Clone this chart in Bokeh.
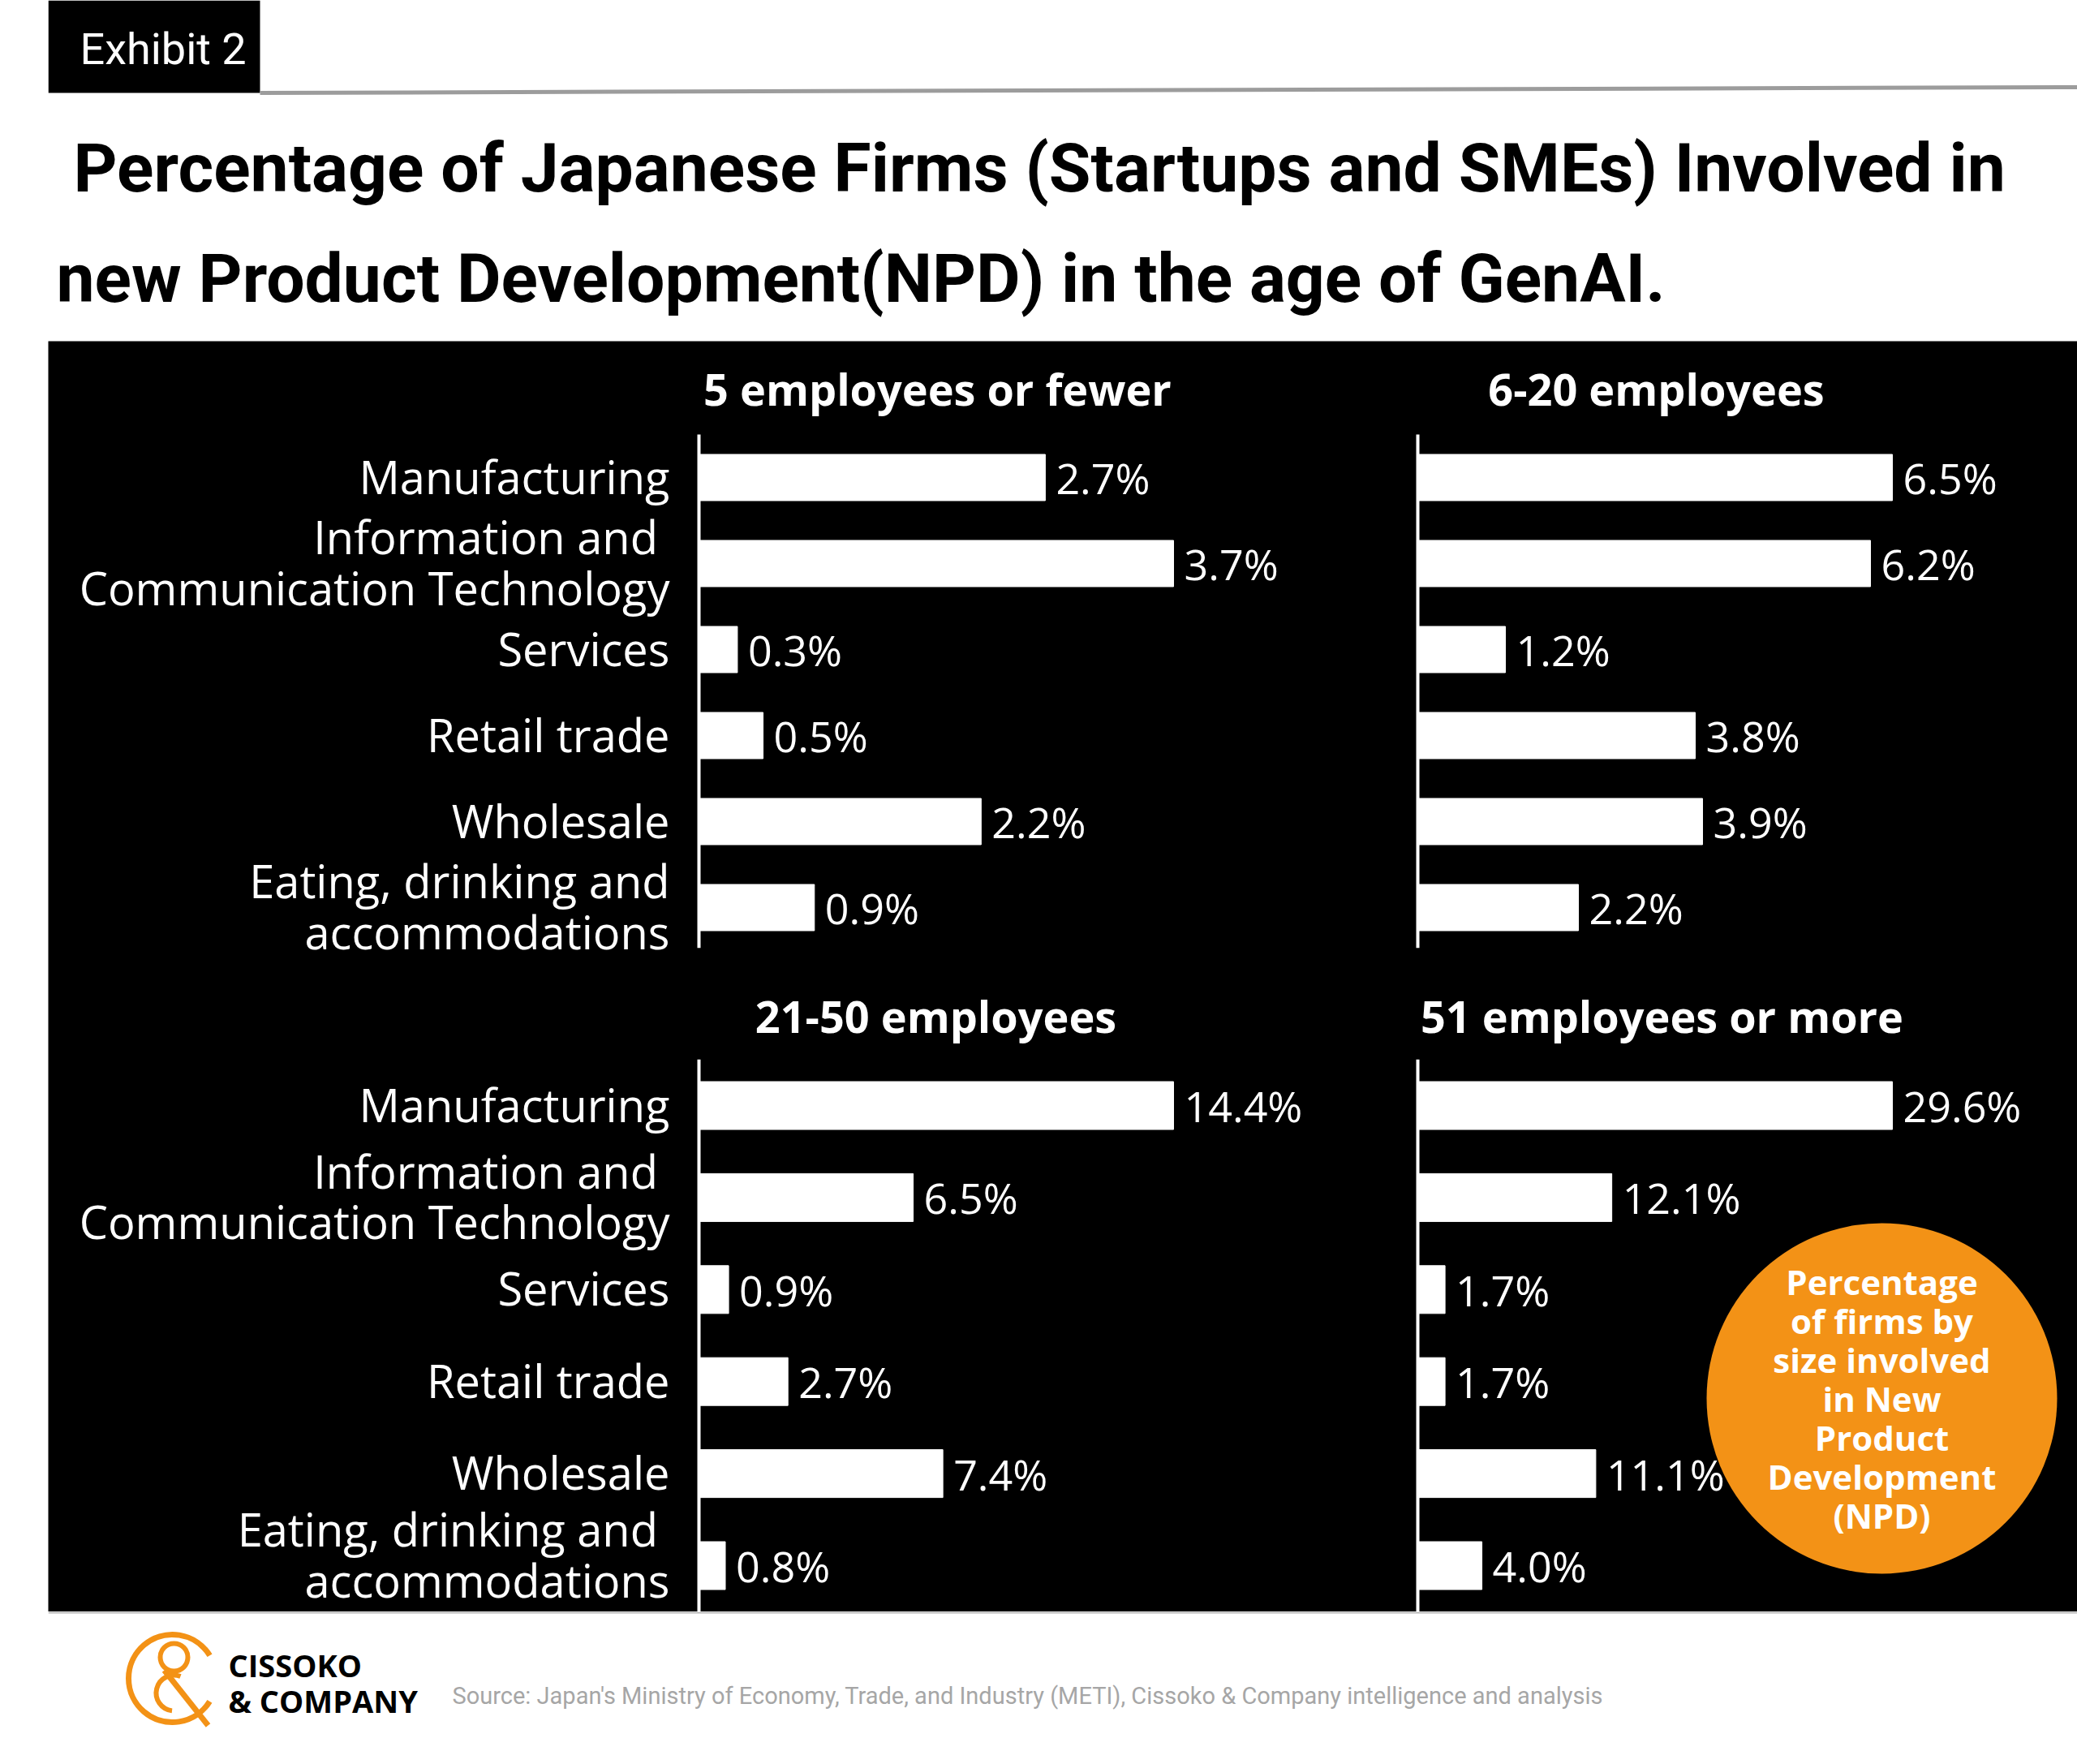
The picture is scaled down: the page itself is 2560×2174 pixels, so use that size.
from bokeh.plotting import figure
from bokeh.layouts import column
from bokeh.models import Range1d
from bokeh.core.properties import value
from bokeh.embed import file_html
from bokeh.resources import INLINE

# ---------------------------------------------------------------- data
industries = [
    "Manufacturing",
    "Information and Communication Technology",
    "Services",
    "Retail trade",
    "Wholesale",
    "Eating, drinking and accommodations",
]
labels_upper = [
    "Manufacturing",
    "Information and \nCommunication Technology",
    "Services",
    "Retail trade",
    "Wholesale",
    "Eating, drinking and\naccommodations",
]
labels_lower = [
    "Manufacturing",
    "Information and \nCommunication Technology",
    "Services",
    "Retail trade",
    "Wholesale",
    "Eating, drinking and \naccommodations",
]

size_groups = ["5 employees or fewer", "6-20 employees", "21-50 employees", "51 employees or more"]
npd_5_or_fewer = [2.7, 3.7, 0.3, 0.5, 2.2, 0.9]
npd_6_to_20 = [6.5, 6.2, 1.2, 3.8, 3.9, 2.2]
npd_21_to_50 = [14.4, 6.5, 0.9, 2.7, 7.4, 0.8]
npd_51_or_more = [29.6, 12.1, 1.7, 1.7, 11.1, 4.0]

title_lines = [
    "Percentage of Japanese Firms (Startups and SMEs) Involved in",
    "new Product Development(NPD) in the age of GenAI.",
]
badge_text = "Percentage\nof firms by\nsize involved\nin New\nProduct\nDevelopment\n(NPD)"
source_text = ("Source: Japan's Ministry of Economy, Trade, and Industry (METI), "
               "Cissoko & Company intelligence and analysis")

# ---------------------------------------------------------------- styling
LABEL_FONT = value("Open Sans")
BOLD_FONT = value("Open Sans")
HEAD_FONT = value("Roboto")
ORANGE = "#F39216"
BAR_SPAN = 585  # pixel length of the longest bar in each panel
PAGE_W = 2560
PANEL_LEFT = 59  # all three stacked canvases share this left border


def canvas(h, x_range, y_range, bg):
    p = figure(width=PAGE_W, height=h, x_range=x_range, y_range=y_range,
               x_axis_type=None, y_axis_type=None,
               output_backend="svg", toolbar_location=None,
               background_fill_color=bg, border_fill_color="white",
               min_border=0, min_border_left=PANEL_LEFT, outline_line_color=None)
    p.grid.visible = False
    return p


# ---------------------------------------------------------------- header
header = canvas(420, Range1d(PANEL_LEFT, PAGE_W), Range1d(420, 0), "white")
header.quad(left=[59], right=[320], top=[0], bottom=[114],
            fill_color="black", line_color=None)
header.text(x=[98], y=[60], text=["Exhibit 2"], text_align="left",
            text_baseline="middle", text_color="white",
            text_font=HEAD_FONT, text_font_size="54px")
header.line(x=[320, 2560], y=[114, 107], line_color="#9c9c9c", line_width=5)
header.text(x=[90, 69], y=[207, 343], text=title_lines, text_align="left",
            text_baseline="alphabetic", text_color="black",
            text_font=HEAD_FONT, text_font_style="bold",
            text_font_size="84px")

# ---------------------------------------------------------------- panels
# One black canvas holds the four small multiples; each panel has its own
# x range (value) and each row of panels its own y range (category index).
FRAME_W, FRAME_H = PAGE_W - PANEL_LEFT, 1566
AXIS_PX = {"left": 802, "right": 1688}          # where x = 0 sits in the frame
ROW_FIRST = {"top": 168, "bottom": 942}           # centre of first bar from frame top
ROW_STEP = {"top": 106, "bottom": 113.4}
ROW_BAR = {"top": 57, "bottom": 59}
# the last label of the lower row is nudged up so it stays inside the board
LAST_LABEL_SHIFT = {"top": -2, "bottom": -14}


def x_range_for(col, vmax):
    s = BAR_SPAN / vmax
    return Range1d(-AXIS_PX[col] / s, (FRAME_W - AXIS_PX[col]) / s)


def y_range_for(r):
    return Range1d((FRAME_H - ROW_FIRST[r]) / ROW_STEP[r], -ROW_FIRST[r] / ROW_STEP[r])


panel_specs = [
    # title, values, labels, column, row, title centre (frame px), axis end
    (size_groups[0], npd_5_or_fewer, labels_upper, "left", "top", 1096, 58, 5.47),
    (size_groups[1], npd_6_to_20, None, "right", "top", 1982, 58, 5.47),
    (size_groups[2], npd_21_to_50, labels_lower, "left", "bottom", 1094, 831, 6.0),
    (size_groups[3], npd_51_or_more, None, "right", "bottom", 1989, 831, 6.0),
]

board = canvas(FRAME_H, Range1d(0, 1), y_range_for("top"), "black")
board.extra_y_ranges = {"bottom": y_range_for("bottom")}
board.extra_x_ranges = {}

label_style = dict(x_offset=-36, text_align="right", text_baseline="middle",
                   text_color="white", text_font=LABEL_FONT,
                   text_font_size="56px", text_line_height=0.82)

for i, (title, values, labels, col, rw, tcx, tcy, axis_end) in enumerate(panel_specs):
    xname = f"x{i}"
    board.extra_x_ranges[xname] = x_range_for(col, max(values))
    yname = "default" if rw == "top" else "bottom"
    kw = dict(x_range_name=xname, y_range_name=yname)
    scale = BAR_SPAN / max(values)
    idx = list(range(len(values)))

    board.hbar(y=idx, left=0, right=values, height=ROW_BAR[rw] / ROW_STEP[rw],
               fill_color="white", line_color="white", line_width=1, **kw)
    board.text(x=values, y=idx, text=[f"{v:.1f}%" for v in values],
               x_offset=13, text_align="left", text_baseline="middle",
               text_color="white", text_font=LABEL_FONT, text_font_size="52px", **kw)
    if labels is not None:
        board.text(x=[0] * (len(labels) - 1), y=idx[:-1], text=labels[:-1],
                   y_offset=-2, **label_style, **kw)
        board.text(x=[0], y=idx[-1:], text=labels[-1:],
                   y_offset=LAST_LABEL_SHIFT[rw], **label_style, **kw)
    board.segment(x0=[0], y0=[-0.5], x1=[0], y1=[axis_end],
                  line_color="white", line_width=4, **kw)
    board.text(x=[(tcx - AXIS_PX[col]) / scale],
               y=[(tcy - ROW_FIRST[rw]) / ROW_STEP[rw]],
               text=[title], text_align="center", text_baseline="middle",
               text_color="white", text_font=BOLD_FONT, text_font_style="bold",
               text_font_size="54px", **kw)

    if i == 3:
        # orange badge in the last panel
        bx = (2260 - AXIS_PX[col]) / scale
        by = (1723 - 420 - ROW_FIRST[rw]) / ROW_STEP[rw]
        board.scatter(x=[bx], y=[by], marker="circle", size=432,
                      fill_color=ORANGE, line_color=None, **kw)
        board.text(x=[bx], y=[by], text=[badge_text], text_align="center",
                   text_baseline="middle", text_color="white", text_font=BOLD_FONT,
                   text_font_style="bold", text_font_size="42px",
                   text_line_height=0.84, **kw)

# ---------------------------------------------------------------- footer
footer = canvas(188, Range1d(PANEL_LEFT, PAGE_W), Range1d(188, 0), "white")
footer.segment(x0=[59], y0=[1], x1=[2560], y1=[1], line_color="#b5b5b5", line_width=2)
# logo mark: open "C" wrapped round an ampersand stroke
footer.arc(x=[212], y=[82], radius=54, start_angle=0.55, end_angle=6.28 - 0.55,
           direction="anticlock", line_color=ORANGE, line_width=7)
footer.scatter(x=[214], y=[56], marker="circle", size=34, fill_color=None,
               line_color=ORANGE, line_width=6)
footer.segment(x0=[202], y0=[72], x1=[256], y1=[140], line_color=ORANGE, line_width=7)
footer.arc(x=[214], y=[100], radius=22, start_angle=1.2, end_angle=4.6,
           direction="anticlock", line_color=ORANGE, line_width=6)
footer.text(x=[281, 281], y=[65, 109], text=["CISSOKO", "& COMPANY"],
            text_align="left", text_baseline="middle", text_color="black",
            text_font=BOLD_FONT, text_font_style="bold", text_font_size="38px")
footer.text(x=[557], y=[103], text=[source_text], text_align="left",
            text_baseline="middle", text_color="#a6a6a6",
            text_font=HEAD_FONT, text_font_size="29px")

page = column(header, board, footer)

open("out.html", "w").write(file_html(page, INLINE))
